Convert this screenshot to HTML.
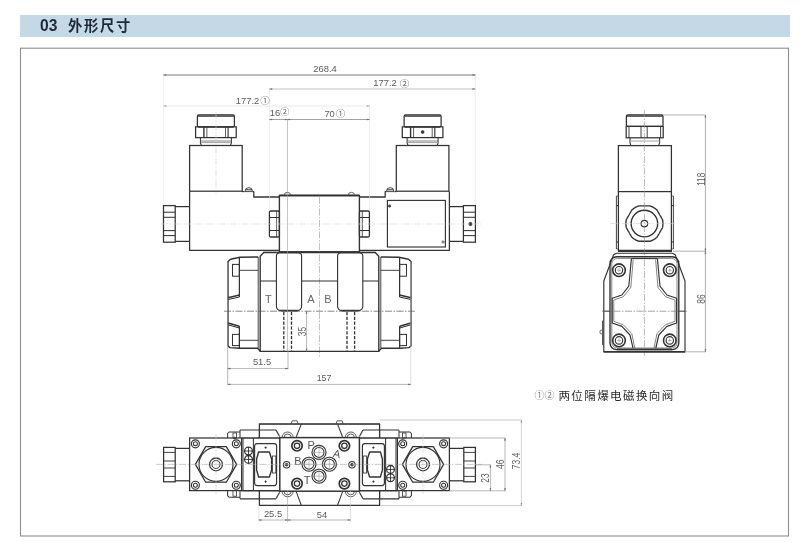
<!DOCTYPE html>
<html lang="zh-CN">
<head>
<meta charset="utf-8">
<title>03 外形尺寸</title>
<style>
html,body{margin:0;padding:0;background:#fff;}
body{width:800px;height:543px;position:relative;overflow:hidden;font-family:"Liberation Sans","Noto Sans CJK SC",sans-serif;}
.bar{position:absolute;left:20px;top:15px;width:770px;height:22px;background:#c4d8e6;}
.bar span{will-change:transform;position:absolute;top:0;line-height:22px;font-size:15px;font-weight:bold;color:#1e2836;white-space:nowrap;}
.frame{position:absolute;left:20px;top:47.5px;width:768px;height:488px;border:1px solid #959595;box-sizing:content-box;}
svg{position:absolute;left:0;top:0;will-change:transform;}
svg text{font-family:"Liberation Sans","Noto Sans CJK SC",sans-serif;}
.cap{will-change:transform;position:absolute;left:534px;top:388px;font-size:11.5px;line-height:16px;color:#2a2a2a;white-space:nowrap;letter-spacing:1.2px;}
.cap i{font-style:normal;color:#7a7a7a;font-size:10px;letter-spacing:0px;position:absolute;left:0.6px;top:0;}
.cap span{position:absolute;left:24.4px;top:0;letter-spacing:1.42px;}
</style>
</head>
<body>
<div class="bar"><span style="left:20.3px;font-size:15.6px">03</span><span style="left:47.6px;font-size:14.3px;letter-spacing:1.7px">外形尺寸</span></div>
<svg width="800" height="543" viewBox="0 0 800 543">
<rect x="20.5" y="48.2" width="768" height="487.8" fill="none" stroke="#8e8e8e" stroke-width="1.1"/>
<rect x="197.4" y="115" width="37.0" height="12" rx="1.5" stroke="#333333" stroke-width="1.26" fill="none"/>
<line x1="197.9" y1="116.3" x2="233.9" y2="116.3" stroke="#333333" stroke-width="0.92" />
<rect x="195.6" y="126.8" width="40.6" height="10.8" rx="0" stroke="#333333" stroke-width="1.26" fill="none"/>
<line x1="203.9" y1="127" x2="203.9" y2="137.6" stroke="#333333" stroke-width="1.38" />
<line x1="206.9" y1="127" x2="206.9" y2="137.6" stroke="#333333" stroke-width="0.8" />
<line x1="225.5" y1="127" x2="225.5" y2="137.6" stroke="#333333" stroke-width="0.8" />
<line x1="228.1" y1="127" x2="228.1" y2="137.6" stroke="#333333" stroke-width="1.15" />
<path d="M200.4 137.6 L200.4 143 L201.4 145.5" stroke="#333333" stroke-width="1.03" fill="none" stroke-linejoin="round" />
<path d="M231.4 137.6 L231.4 143 L230.4 145.5" stroke="#333333" stroke-width="1.03" fill="none" stroke-linejoin="round" />
<line x1="200.4" y1="141" x2="231.4" y2="141" stroke="#666" stroke-width="0.8" />
<line x1="200.9" y1="142.6" x2="230.9" y2="142.6" stroke="#777" stroke-width="0.7" />
<rect x="189.6" y="145.5" width="52.6" height="45.7" rx="0" stroke="#333333" stroke-width="1.26" fill="none"/>
<line x1="216" y1="112" x2="216" y2="194" stroke="#cfcfcf" stroke-width="0.6" stroke-dasharray="7 1.5 1.5 1.5"/>
<rect x="404.1" y="115" width="37.0" height="12" rx="1.5" stroke="#333333" stroke-width="1.26" fill="none"/>
<line x1="404.6" y1="116.3" x2="440.6" y2="116.3" stroke="#333333" stroke-width="0.92" />
<rect x="402.3" y="126.8" width="40.6" height="10.8" rx="0" stroke="#333333" stroke-width="1.26" fill="none"/>
<line x1="410.6" y1="127" x2="410.6" y2="137.6" stroke="#333333" stroke-width="1.38" />
<line x1="413.6" y1="127" x2="413.6" y2="137.6" stroke="#333333" stroke-width="0.8" />
<line x1="432.20000000000005" y1="127" x2="432.20000000000005" y2="137.6" stroke="#333333" stroke-width="0.8" />
<line x1="434.8" y1="127" x2="434.8" y2="137.6" stroke="#333333" stroke-width="1.15" />
<path d="M407.1 137.6 L407.1 143 L408.1 145.5" stroke="#333333" stroke-width="1.03" fill="none" stroke-linejoin="round" />
<path d="M438.1 137.6 L438.1 143 L437.1 145.5" stroke="#333333" stroke-width="1.03" fill="none" stroke-linejoin="round" />
<line x1="407.1" y1="141" x2="438.1" y2="141" stroke="#666" stroke-width="0.8" />
<line x1="407.6" y1="142.6" x2="437.6" y2="142.6" stroke="#777" stroke-width="0.7" />
<rect x="396.3" y="145.5" width="52.6" height="45.7" rx="0" stroke="#333333" stroke-width="1.26" fill="none"/>
<circle cx="422.6" cy="132" r="1.5" stroke="#333333" stroke-width="0.57" fill="#333333"/>
<path d="M189.6 191.2 L189.6 250.3 L279.4 250.3" stroke="#333333" stroke-width="1.26" fill="none" stroke-linejoin="round" />
<path d="M242 191.6 L244.5 191.6" stroke="#333333" stroke-width="1.15" fill="none" stroke-linejoin="round" />
<path d="M252.8 191.6 L253.8 191.6 L253.8 197 L279.4 197" stroke="#333333" stroke-width="1.26" fill="none" stroke-linejoin="round" />
<path d="M245 191.6 Q245 187.6 248.8 187.6 Q252.6 187.6 252.6 191.6 Z" stroke="#333333" stroke-width="0.9" fill="none"/>
<line x1="245.5" y1="189.8" x2="252" y2="189.8" stroke="#333333" stroke-width="1.03" />
<path d="M359.4 250.3 L449.4 250.3 L449.4 191.2" stroke="#333333" stroke-width="1.26" fill="none" stroke-linejoin="round" />
<path d="M359.4 197 L385.2 197 L385.2 191.6 L386.2 191.6" stroke="#333333" stroke-width="1.26" fill="none" stroke-linejoin="round" />
<path d="M394.5 191.6 L396.3 191.6" stroke="#333333" stroke-width="1.15" fill="none" stroke-linejoin="round" />
<path d="M386.4 191.6 Q386.4 187.6 390.2 187.6 Q394 187.6 394 191.6 Z" stroke="#333333" stroke-width="0.9" fill="none"/>
<line x1="387" y1="189.8" x2="393.5" y2="189.8" stroke="#333333" stroke-width="1.03" />
<rect x="387.4" y="200.4" width="58.0" height="46.6" rx="0" stroke="#333333" stroke-width="1.15" fill="none"/>
<circle cx="389.6" cy="206" r="1.2" stroke="#333333" stroke-width="0.69" fill="#555"/>
<circle cx="443" cy="242" r="1.1" stroke="#333333" stroke-width="0.8" fill="none"/>
<rect x="163.5" y="205.6" width="11.7" height="36.6" rx="0" stroke="#333333" stroke-width="1.26" fill="none"/>
<line x1="163.5" y1="212.2" x2="175.2" y2="212.2" stroke="#333333" stroke-width="1.03" />
<line x1="163.5" y1="217.3" x2="175.2" y2="217.3" stroke="#333333" stroke-width="1.03" />
<line x1="163.5" y1="230.6" x2="175.2" y2="230.6" stroke="#333333" stroke-width="1.03" />
<line x1="163.5" y1="235.6" x2="175.2" y2="235.6" stroke="#333333" stroke-width="1.03" />
<line x1="175.2" y1="206.6" x2="189.6" y2="206.6" stroke="#333333" stroke-width="1.26" />
<line x1="175.2" y1="241.4" x2="189.6" y2="241.4" stroke="#333333" stroke-width="1.26" />
<rect x="463.4" y="205.6" width="12.0" height="36.6" rx="0" stroke="#333333" stroke-width="1.26" fill="none"/>
<line x1="475.4" y1="212.2" x2="463.4" y2="212.2" stroke="#333333" stroke-width="1.03" />
<line x1="475.4" y1="217.3" x2="463.4" y2="217.3" stroke="#333333" stroke-width="1.03" />
<line x1="475.4" y1="230.6" x2="463.4" y2="230.6" stroke="#333333" stroke-width="1.03" />
<line x1="475.4" y1="235.6" x2="463.4" y2="235.6" stroke="#333333" stroke-width="1.03" />
<line x1="449.4" y1="206.6" x2="463.4" y2="206.6" stroke="#333333" stroke-width="1.26" />
<line x1="449.4" y1="241.4" x2="463.4" y2="241.4" stroke="#333333" stroke-width="1.26" />
<circle cx="470.4" cy="224" r="1.7" stroke="#333333" stroke-width="0.57" fill="#333333"/>
<rect x="279.4" y="195.6" width="80.0" height="56.2" rx="0" stroke="#333333" stroke-width="1.38" fill="none"/>
<line x1="279.4" y1="195.4" x2="359.4" y2="195.4" stroke="#333333" stroke-width="1.84" />
<path d="M284.2 195 Q284.2 192.4 287.4 192.4 Q290.59999999999997 192.4 290.59999999999997 195" stroke="#555" stroke-width="0.9" fill="none"/>
<path d="M348.2 195 Q348.2 192.4 351.4 192.4 Q354.59999999999997 192.4 354.59999999999997 195" stroke="#555" stroke-width="0.9" fill="none"/>
<rect x="269.4" y="211" width="10.0" height="26" rx="1.2" stroke="#333333" stroke-width="1.26" fill="none"/>
<line x1="269.4" y1="217.5" x2="279.4" y2="217.5" stroke="#333333" stroke-width="1.03" />
<line x1="269.4" y1="230.5" x2="279.4" y2="230.5" stroke="#333333" stroke-width="1.03" />
<rect x="359.4" y="211" width="10.0" height="26" rx="1.2" stroke="#333333" stroke-width="1.26" fill="none"/>
<line x1="359.4" y1="217.5" x2="369.4" y2="217.5" stroke="#333333" stroke-width="1.03" />
<line x1="359.4" y1="230.5" x2="369.4" y2="230.5" stroke="#333333" stroke-width="1.03" />
<line x1="276.6" y1="211" x2="276.6" y2="237" stroke="#333333" stroke-width="0.8" />
<line x1="362.3" y1="211" x2="362.3" y2="237" stroke="#333333" stroke-width="0.8" />
<line x1="161" y1="224" x2="481" y2="224" stroke="#d4d4d4" stroke-width="0.6" stroke-dasharray="7 1.5 1.5 1.5"/>
<line x1="319.5" y1="197" x2="319.5" y2="358" stroke="#999" stroke-width="0.6" stroke-dasharray="7 1.5 1.5 1.5"/>
<path d="M260.2 351.4 L260.2 256.2 L263.8 252.5 L375.2 252.5 L378.8 256.2 L378.8 351.4 L260.2 351.4 Z" stroke="#333333" stroke-width="1.38" fill="none" stroke-linejoin="round" />
<line x1="258.2" y1="257" x2="258.2" y2="348" stroke="#333333" stroke-width="0.92" />
<line x1="380.8" y1="257" x2="380.8" y2="348" stroke="#333333" stroke-width="0.92" />
<line x1="263" y1="252.3" x2="376" y2="252.3" stroke="#333333" stroke-width="0.69" />
<line x1="260" y1="351.5" x2="379" y2="351.5" stroke="#333333" stroke-width="0.69" />
<path d="M276.4 256 Q276.4 253 279.4 253 L298.59999999999997 253 Q301.59999999999997 253 301.59999999999997 256 L301.59999999999997 306 Q301.59999999999997 310.6 297.0 310.6 L281.0 310.6 Q276.4 310.6 276.4 306 Z" stroke="#333333" stroke-width="1.1" fill="#fff"/>
<line x1="280.4" y1="310.6" x2="297.59999999999997" y2="310.6" stroke="#333333" stroke-width="1.72" />
<path d="M337.6 256 Q337.6 253 340.6 253 L359.8 253 Q362.8 253 362.8 256 L362.8 306 Q362.8 310.6 358.20000000000005 310.6 L342.20000000000005 310.6 Q337.6 310.6 337.6 306 Z" stroke="#333333" stroke-width="1.1" fill="#fff"/>
<line x1="341.6" y1="310.6" x2="358.8" y2="310.6" stroke="#333333" stroke-width="1.72" />
<line x1="260.2" y1="281" x2="276.4" y2="281" stroke="#333333" stroke-width="1.03" />
<line x1="301.6" y1="281" x2="337.6" y2="281" stroke="#333333" stroke-width="1.03" />
<line x1="362.8" y1="281" x2="378.8" y2="281" stroke="#333333" stroke-width="1.03" />
<line x1="224" y1="311.2" x2="415" y2="311.2" stroke="#555" stroke-width="0.7" stroke-dasharray="7 1.5 1.5 1.5"/>
<line x1="283.8" y1="312" x2="283.8" y2="351" stroke="#333333" stroke-width="1.32" stroke-dasharray="3.2 1.6"/>
<line x1="291.5" y1="312" x2="291.5" y2="351" stroke="#333333" stroke-width="1.32" stroke-dasharray="3.2 1.6"/>
<line x1="347" y1="312" x2="347" y2="351" stroke="#333333" stroke-width="1.32" stroke-dasharray="3.2 1.6"/>
<line x1="354.6" y1="312" x2="354.6" y2="351" stroke="#333333" stroke-width="1.32" stroke-dasharray="3.2 1.6"/>
<line x1="306.6" y1="311.2" x2="306.6" y2="351.4" stroke="#999" stroke-width="0.7" />
<path d="M306.6 311.2 L307.15 313.8 L306.05 313.8 Z" fill="#666" stroke="#666" stroke-width="0.3"/>
<path d="M306.6 351.4 L306.05 348.8 L307.15 348.8 Z" fill="#666" stroke="#666" stroke-width="0.3"/>
<path d="M258.2 257 L240 257.2 L230.5 259.2 L228 261.5 L228 297.8 L239.4 295" stroke="#333333" stroke-width="1.44" fill="none" stroke-linejoin="round" />
<path d="M228 299.6 L239.4 296.9" stroke="#333333" stroke-width="1.03" fill="none" stroke-linejoin="round" />
<line x1="239.4" y1="257.2" x2="239.4" y2="297" stroke="#333333" stroke-width="1.26" />
<rect x="232.5" y="264.4" width="6.9" height="11.8" rx="0" stroke="#333333" stroke-width="1.03" fill="none"/>
<line x1="239.4" y1="270.3" x2="258.2" y2="270.3" stroke="#333333" stroke-width="0.92" />
<path d="M239.4 326.2 L228 323 L228 346 L230 347.6 L239.4 348.2 L257.6 348.2 L260.4 351.4" stroke="#333333" stroke-width="1.44" fill="none" stroke-linejoin="round" />
<path d="M228 324.8 L239.4 328" stroke="#333333" stroke-width="1.03" fill="none" stroke-linejoin="round" />
<line x1="239.4" y1="326.2" x2="239.4" y2="348.2" stroke="#333333" stroke-width="1.26" />
<rect x="232.5" y="334.4" width="6.9" height="11.2" rx="0" stroke="#333333" stroke-width="1.03" fill="none"/>
<line x1="239.4" y1="340.3" x2="258.2" y2="340.3" stroke="#333333" stroke-width="0.92" />
<line x1="228" y1="297.8" x2="228" y2="323" stroke="#333333" stroke-width="1.38" />
<path d="M380.8 257 L399.0 257.2 L408.5 259.2 L411.0 261.5 L411.0 297.8 L399.6 295" stroke="#333333" stroke-width="1.44" fill="none" stroke-linejoin="round" />
<path d="M411.0 299.6 L399.6 296.9" stroke="#333333" stroke-width="1.03" fill="none" stroke-linejoin="round" />
<line x1="399.6" y1="257.2" x2="399.6" y2="297" stroke="#333333" stroke-width="1.26" />
<rect x="399.6" y="264.4" width="6.9" height="11.8" rx="0" stroke="#333333" stroke-width="1.03" fill="none"/>
<line x1="399.6" y1="270.3" x2="380.8" y2="270.3" stroke="#333333" stroke-width="0.92" />
<path d="M399.6 326.2 L411.0 323 L411.0 346 L409.0 347.6 L399.6 348.2 L381.4 348.2 L378.6 351.4" stroke="#333333" stroke-width="1.44" fill="none" stroke-linejoin="round" />
<path d="M411.0 324.8 L399.6 328" stroke="#333333" stroke-width="1.03" fill="none" stroke-linejoin="round" />
<line x1="399.6" y1="326.2" x2="399.6" y2="348.2" stroke="#333333" stroke-width="1.26" />
<rect x="399.6" y="334.4" width="6.9" height="11.2" rx="0" stroke="#333333" stroke-width="1.03" fill="none"/>
<line x1="399.6" y1="340.3" x2="380.8" y2="340.3" stroke="#333333" stroke-width="0.92" />
<line x1="411.0" y1="297.8" x2="411.0" y2="323" stroke="#333333" stroke-width="1.38" />
<text transform="translate(268.3 302.5) scale(1 1)" font-size="11" fill="#666" text-anchor="middle" font-weight="normal" >T</text>
<text transform="translate(311 302.5) scale(1 1)" font-size="11" fill="#666" text-anchor="middle" font-weight="normal" >A</text>
<text transform="translate(328 302.5) scale(1 1)" font-size="11" fill="#666" text-anchor="middle" font-weight="normal" >B</text>
<text transform="translate(306.3 331.4) rotate(-90) scale(0.81 1)" font-size="10.5" fill="#606060" text-anchor="middle" font-weight="normal" >35</text>
<line x1="163.6" y1="74" x2="163.6" y2="205" stroke="#e6e6e6" stroke-width="0.6" />
<line x1="475.2" y1="74" x2="475.2" y2="205" stroke="#dcdcdc" stroke-width="0.6" />
<line x1="163.6" y1="75" x2="475.2" y2="75" stroke="#707070" stroke-width="0.9" />
<path d="M163.6 75 L166.2 74.45 L166.2 75.55 Z" fill="#666" stroke="#666" stroke-width="0.3"/>
<path d="M475.2 75 L472.6 75.55 L472.6 74.45 Z" fill="#666" stroke="#666" stroke-width="0.3"/>
<text transform="translate(325 71.6) scale(1 1)" font-size="9.4" fill="#5a5a5a" text-anchor="middle" font-weight="normal" >268.4</text>
<line x1="269.5" y1="88" x2="269.5" y2="211" stroke="#e6e6e6" stroke-width="0.6" />
<line x1="269.5" y1="89" x2="475.2" y2="89" stroke="#a6a6a6" stroke-width="0.7" />
<path d="M269.5 89 L272.1 88.45 L272.1 89.55 Z" fill="#666" stroke="#666" stroke-width="0.3"/>
<path d="M475.2 89 L472.6 89.55 L472.6 88.45 Z" fill="#666" stroke="#666" stroke-width="0.3"/>
<text transform="translate(385 86.2) scale(1 1)" font-size="9.4" fill="#5a5a5a" text-anchor="middle" font-weight="normal" >177.2</text>
<text transform="translate(404.6 86.8) scale(1 1)" font-size="9.6" fill="#6a6a6a" text-anchor="middle" font-weight="normal" >②</text>
<line x1="369.5" y1="105" x2="369.5" y2="211" stroke="#e0e0e0" stroke-width="0.6" />
<line x1="163.6" y1="106" x2="369.5" y2="106" stroke="#dcdcdc" stroke-width="0.6" />
<path d="M163.6 106 L166.2 105.45 L166.2 106.55 Z" fill="#999" stroke="#999" stroke-width="0.3"/>
<path d="M369.5 106 L366.9 106.55 L366.9 105.45 Z" fill="#999" stroke="#999" stroke-width="0.3"/>
<text transform="translate(247.6 103.6) scale(1 1)" font-size="9.4" fill="#5a5a5a" text-anchor="middle" font-weight="normal" >177.2</text>
<text transform="translate(265 103.8) scale(1 1)" font-size="9.6" fill="#6a6a6a" text-anchor="middle" font-weight="normal" >①</text>
<line x1="269.5" y1="119.5" x2="287.5" y2="119.5" stroke="#8c8c8c" stroke-width="0.8" />
<path d="M269.5 119.5 L272.1 118.95 L272.1 120.05 Z" fill="#666" stroke="#666" stroke-width="0.3"/>
<path d="M287.5 119.5 L284.9 120.05 L284.9 118.95 Z" fill="#666" stroke="#666" stroke-width="0.3"/>
<line x1="287.5" y1="119.5" x2="369.5" y2="119.5" stroke="#8c8c8c" stroke-width="0.8" />
<path d="M287.5 119.5 L290.1 118.95 L290.1 120.05 Z" fill="#666" stroke="#666" stroke-width="0.3"/>
<path d="M369.5 119.5 L366.9 120.05 L366.9 118.95 Z" fill="#666" stroke="#666" stroke-width="0.3"/>
<line x1="287.5" y1="119.6" x2="287.5" y2="351" stroke="#a0a0a0" stroke-width="0.6" />
<text transform="translate(275 116.4) scale(1 1)" font-size="9.4" fill="#5a5a5a" text-anchor="middle" font-weight="normal" >16</text>
<text transform="translate(284.8 115.3) scale(1 1)" font-size="9" fill="#6a6a6a" text-anchor="middle" font-weight="normal" >②</text>
<text transform="translate(329.6 116.6) scale(1 1)" font-size="9.4" fill="#5a5a5a" text-anchor="middle" font-weight="normal" >70</text>
<text transform="translate(340.6 116.8) scale(1 1)" font-size="9.6" fill="#6a6a6a" text-anchor="middle" font-weight="normal" >①</text>
<line x1="227.7" y1="262" x2="227.7" y2="385" stroke="#999" stroke-width="0.7" />
<line x1="410.8" y1="262" x2="410.8" y2="385" stroke="#c8c8c8" stroke-width="0.6" />
<line x1="288" y1="351" x2="288" y2="369" stroke="#999" stroke-width="0.7" />
<line x1="227.7" y1="368.6" x2="288" y2="368.6" stroke="#999" stroke-width="0.7" />
<path d="M227.7 368.6 L230.3 368.05 L230.3 369.15 Z" fill="#666" stroke="#666" stroke-width="0.3"/>
<path d="M288 368.6 L285.4 369.15 L285.4 368.05 Z" fill="#666" stroke="#666" stroke-width="0.3"/>
<text transform="translate(262 365.2) scale(1 1)" font-size="9.4" fill="#5a5a5a" text-anchor="middle" font-weight="normal" >51.5</text>
<line x1="227.7" y1="384.4" x2="410.8" y2="384.4" stroke="#999" stroke-width="0.7" />
<path d="M227.7 384.4 L230.3 383.85 L230.3 384.95 Z" fill="#666" stroke="#666" stroke-width="0.3"/>
<path d="M410.8 384.4 L408.2 384.95 L408.2 383.85 Z" fill="#666" stroke="#666" stroke-width="0.3"/>
<text transform="translate(324 381.4) scale(0.93 1)" font-size="9.4" fill="#5a5a5a" text-anchor="middle" font-weight="normal" >157</text>
<rect x="626.4" y="115" width="36.6" height="11.4" rx="1.5" stroke="#333333" stroke-width="1.26" fill="none"/>
<line x1="627" y1="116.3" x2="662.5" y2="116.3" stroke="#333333" stroke-width="0.92" />
<rect x="626.2" y="126.4" width="37.0" height="11.4" rx="0" stroke="#333333" stroke-width="1.26" fill="none"/>
<line x1="629" y1="126.4" x2="629" y2="137.8" stroke="#333333" stroke-width="0.92" />
<line x1="641" y1="126.4" x2="641" y2="137.8" stroke="#333333" stroke-width="0.92" />
<line x1="647.2" y1="126.4" x2="647.2" y2="137.8" stroke="#333333" stroke-width="0.92" />
<line x1="660.6" y1="126.4" x2="660.6" y2="137.8" stroke="#333333" stroke-width="0.92" />
<path d="M630 137.8 L630 143 L631 145.6" stroke="#333333" stroke-width="1.03" fill="none" stroke-linejoin="round" />
<path d="M659.6 137.8 L659.6 143 L658.6 145.6" stroke="#333333" stroke-width="1.03" fill="none" stroke-linejoin="round" />
<line x1="630" y1="141" x2="659.6" y2="141" stroke="#8a8a8a" stroke-width="0.8" />
<rect x="618.4" y="145.6" width="53.0" height="46.0" rx="0" stroke="#333333" stroke-width="1.26" fill="none"/>
<path d="M618.4 191.6 L618.4 250.6 L671.4 250.6 L671.4 191.6" stroke="#333333" stroke-width="1.26" fill="none" stroke-linejoin="round" />
<line x1="618" y1="250.8" x2="672" y2="250.8" stroke="#333333" stroke-width="2.3" />
<line x1="616.4" y1="196" x2="616.4" y2="249" stroke="#333333" stroke-width="0.92" />
<line x1="616.4" y1="196" x2="618.4" y2="196" stroke="#333333" stroke-width="0.69" />
<line x1="616.4" y1="249" x2="618.4" y2="249" stroke="#333333" stroke-width="0.69" />
<line x1="616.4" y1="205.6" x2="618.4" y2="205.6" stroke="#333333" stroke-width="1.03" />
<line x1="616.4" y1="242" x2="618.4" y2="242" stroke="#333333" stroke-width="1.03" />
<line x1="673.4" y1="196" x2="673.4" y2="249" stroke="#333333" stroke-width="0.92" />
<line x1="673.4" y1="196" x2="671.4" y2="196" stroke="#333333" stroke-width="0.69" />
<line x1="673.4" y1="249" x2="671.4" y2="249" stroke="#333333" stroke-width="0.69" />
<line x1="673.4" y1="205.6" x2="671.4" y2="205.6" stroke="#333333" stroke-width="1.03" />
<line x1="673.4" y1="242" x2="671.4" y2="242" stroke="#333333" stroke-width="1.03" />
<path d="M662.9 223.6 L662.9 223.92 L662.89 224.25 L662.87 224.57 L662.85 224.89 L662.83 225.21 L662.8 225.53 L662.76 225.85 L662.72 226.17 L662.67 226.49 L662.62 226.81 L662.56 227.13 L662.5 227.45 L662.43 227.76 L662.27 228.05 L662.1 228.34 L661.94 228.63 L661.77 228.91 L661.61 229.19 L661.45 229.47 L661.29 229.75 L661.13 230.02 L660.97 230.3 L660.82 230.57 L660.66 230.84 L660.5 231.11 L660.35 231.38 L660.19 231.65 L660.04 231.91 L659.88 232.18 L659.73 232.45 L659.57 232.72 L659.42 232.99 L659.26 233.25 L659.11 233.52 L658.95 233.79 L658.8 234.06 L658.64 234.33 L658.48 234.6 L658.33 234.88 L658.17 235.15 L658.01 235.43 L657.85 235.71 L657.69 235.99 L657.52 236.27 L657.36 236.56 L657.19 236.85 L657.02 237.13 L656.78 237.35 L656.54 237.56 L656.29 237.77 L656.04 237.98 L655.79 238.18 L655.53 238.37 L655.27 238.57 L655.01 238.75 L654.75 238.94 L654.48 239.12 L654.2 239.29 L653.93 239.46 L653.65 239.62 L653.37 239.78 L653.09 239.93 L652.8 240.08 L652.51 240.23 L652.22 240.37 L651.92 240.5 L651.63 240.63 L651.33 240.75 L651.03 240.87 L650.73 240.98 L650.42 241.09 L650.12 241.19 L649.81 241.29 L649.48 241.3 L649.14 241.3 L648.81 241.3 L648.49 241.3 L648.16 241.3 L647.84 241.3 L647.52 241.3 L647.2 241.3 L646.89 241.3 L646.57 241.3 L646.26 241.3 L645.95 241.3 L645.64 241.3 L645.33 241.3 L645.02 241.3 L644.71 241.3 L644.4 241.3 L644.09 241.3 L643.78 241.3 L643.47 241.3 L643.16 241.3 L642.85 241.3 L642.54 241.3 L642.23 241.3 L641.91 241.3 L641.6 241.3 L641.28 241.3 L640.96 241.3 L640.64 241.3 L640.31 241.3 L639.99 241.3 L639.66 241.3 L639.32 241.3 L638.99 241.29 L638.68 241.19 L638.38 241.09 L638.07 240.98 L637.77 240.87 L637.47 240.75 L637.17 240.63 L636.88 240.5 L636.58 240.37 L636.29 240.23 L636.0 240.08 L635.71 239.93 L635.43 239.78 L635.15 239.62 L634.87 239.46 L634.6 239.29 L634.32 239.12 L634.05 238.94 L633.79 238.75 L633.53 238.57 L633.27 238.37 L633.01 238.18 L632.76 237.98 L632.51 237.77 L632.26 237.56 L632.02 237.35 L631.78 237.13 L631.61 236.85 L631.44 236.56 L631.28 236.27 L631.11 235.99 L630.95 235.71 L630.79 235.43 L630.63 235.15 L630.47 234.88 L630.32 234.6 L630.16 234.33 L630.0 234.06 L629.85 233.79 L629.69 233.52 L629.54 233.25 L629.38 232.99 L629.23 232.72 L629.07 232.45 L628.92 232.18 L628.76 231.91 L628.61 231.65 L628.45 231.38 L628.3 231.11 L628.14 230.84 L627.98 230.57 L627.83 230.3 L627.67 230.02 L627.51 229.75 L627.35 229.47 L627.19 229.19 L627.03 228.91 L626.86 228.63 L626.7 228.34 L626.53 228.05 L626.37 227.76 L626.3 227.45 L626.24 227.13 L626.18 226.81 L626.13 226.49 L626.08 226.17 L626.04 225.85 L626.0 225.53 L625.97 225.21 L625.95 224.89 L625.93 224.57 L625.91 224.25 L625.9 223.92 L625.9 223.6 L625.9 223.28 L625.91 222.95 L625.93 222.63 L625.95 222.31 L625.97 221.99 L626.0 221.67 L626.04 221.35 L626.08 221.03 L626.13 220.71 L626.18 220.39 L626.24 220.07 L626.3 219.75 L626.37 219.44 L626.53 219.15 L626.7 218.86 L626.86 218.57 L627.03 218.29 L627.19 218.01 L627.35 217.73 L627.51 217.45 L627.67 217.18 L627.83 216.9 L627.98 216.63 L628.14 216.36 L628.3 216.09 L628.45 215.82 L628.61 215.55 L628.76 215.29 L628.92 215.02 L629.07 214.75 L629.23 214.48 L629.38 214.21 L629.54 213.95 L629.69 213.68 L629.85 213.41 L630.0 213.14 L630.16 212.87 L630.32 212.6 L630.47 212.32 L630.63 212.05 L630.79 211.77 L630.95 211.49 L631.11 211.21 L631.28 210.93 L631.44 210.64 L631.61 210.35 L631.78 210.07 L632.02 209.85 L632.26 209.64 L632.51 209.43 L632.76 209.22 L633.01 209.02 L633.27 208.83 L633.53 208.63 L633.79 208.45 L634.05 208.26 L634.32 208.08 L634.6 207.91 L634.87 207.74 L635.15 207.58 L635.43 207.42 L635.71 207.27 L636.0 207.12 L636.29 206.97 L636.58 206.83 L636.88 206.7 L637.17 206.57 L637.47 206.45 L637.77 206.33 L638.07 206.22 L638.38 206.11 L638.68 206.01 L638.99 205.91 L639.32 205.9 L639.66 205.9 L639.99 205.9 L640.31 205.9 L640.64 205.9 L640.96 205.9 L641.28 205.9 L641.6 205.9 L641.91 205.9 L642.23 205.9 L642.54 205.9 L642.85 205.9 L643.16 205.9 L643.47 205.9 L643.78 205.9 L644.09 205.9 L644.4 205.9 L644.71 205.9 L645.02 205.9 L645.33 205.9 L645.64 205.9 L645.95 205.9 L646.26 205.9 L646.57 205.9 L646.89 205.9 L647.2 205.9 L647.52 205.9 L647.84 205.9 L648.16 205.9 L648.49 205.9 L648.81 205.9 L649.14 205.9 L649.48 205.9 L649.81 205.91 L650.12 206.01 L650.42 206.11 L650.73 206.22 L651.03 206.33 L651.33 206.45 L651.63 206.57 L651.92 206.7 L652.22 206.83 L652.51 206.97 L652.8 207.12 L653.09 207.27 L653.37 207.42 L653.65 207.58 L653.93 207.74 L654.2 207.91 L654.48 208.08 L654.75 208.26 L655.01 208.45 L655.27 208.63 L655.53 208.83 L655.79 209.02 L656.04 209.22 L656.29 209.43 L656.54 209.64 L656.78 209.85 L657.02 210.07 L657.19 210.35 L657.36 210.64 L657.52 210.93 L657.69 211.21 L657.85 211.49 L658.01 211.77 L658.17 212.05 L658.33 212.32 L658.48 212.6 L658.64 212.87 L658.8 213.14 L658.95 213.41 L659.11 213.68 L659.26 213.95 L659.42 214.21 L659.57 214.48 L659.73 214.75 L659.88 215.02 L660.04 215.29 L660.19 215.55 L660.35 215.82 L660.5 216.09 L660.66 216.36 L660.82 216.63 L660.97 216.9 L661.13 217.18 L661.29 217.45 L661.45 217.73 L661.61 218.01 L661.77 218.29 L661.94 218.57 L662.1 218.86 L662.27 219.15 L662.43 219.44 L662.5 219.75 L662.56 220.07 L662.62 220.39 L662.67 220.71 L662.72 221.03 L662.76 221.35 L662.8 221.67 L662.83 221.99 L662.85 222.31 L662.87 222.63 L662.89 222.95 L662.9 223.28 Z" stroke="#333333" stroke-width="1.38" fill="none" stroke-linejoin="round" />
<circle cx="644.4" cy="223.6" r="13.3" stroke="#333333" stroke-width="1.38" fill="none"/>
<circle cx="644.4" cy="223.6" r="3.3" stroke="#333333" stroke-width="1.15" fill="none"/>
<line x1="610" y1="223.6" x2="676" y2="223.6" stroke="#cfcfcf" stroke-width="0.6" stroke-dasharray="7 1.5 1.5 1.5"/>
<line x1="644.4" y1="110" x2="644.4" y2="356" stroke="#8a8a8a" stroke-width="0.6" stroke-dasharray="7 1.5 1.5 1.5"/>
<path d="M616.5 253.2 L613.6 254.8 L603.8 281 L603.8 351.8 L685.0 351.8 L685.0 281 L675.2 254.8 L672.3 253.2 L616.5 253.2 Z" stroke="#333333" stroke-width="1.15" fill="none" stroke-linejoin="round" />
<line x1="603.8" y1="351.8" x2="685.0" y2="351.8" stroke="#333333" stroke-width="1.38" />
<line x1="603.8" y1="311.2" x2="610" y2="311.2" stroke="#333333" stroke-width="0.92" />
<line x1="685.0" y1="311.2" x2="678.8" y2="311.2" stroke="#333333" stroke-width="0.92" />
<rect x="610" y="256.8" width="68.8" height="92.8" rx="6.5" stroke="#333333" stroke-width="1.38" fill="none"/>
<rect x="611.8" y="258.4" width="65.2" height="89.6" rx="5.5" stroke="#666" stroke-width="0.8" fill="none"/>
<line x1="617" y1="349.4" x2="672" y2="349.4" stroke="#333333" stroke-width="1.84" />
<path d="M631.4 258.6 L628.8 286.2 L621.9 295 L612.2 298.2 L612.2 323 L621.9 326.4 L630 335 L633 348" stroke="#333333" stroke-width="1.15" fill="none" stroke-linejoin="round" />
<path d="M655.8 348 L658.8 335 L666.9 326.4 L676.6 323 L676.6 298.2 L666.9 295 L660.0 286.2 L657.4 258.6" stroke="#333333" stroke-width="1.15" fill="none" stroke-linejoin="round" />
<line x1="631.4" y1="258.6" x2="657.4" y2="258.6" stroke="#333333" stroke-width="1.03" />
<path d="M633.2 259.6 L630.8 287.6 L623.2 296.8 L613.8 300 L613.8 321.4 L623.2 324.6 L631.8 333.6 L634.8 348" stroke="#666" stroke-width="0.8" fill="none" stroke-linejoin="round" />
<path d="M655.6 259.6 L658.0 287.6 L665.6 296.8 L675.0 300 L675.0 321.4 L665.6 324.6 L657.0 333.6 L654.0 348" stroke="#666" stroke-width="0.8" fill="none" stroke-linejoin="round" />
<circle cx="619" cy="270.2" r="6.3" stroke="#333333" stroke-width="1.61" fill="none"/>
<circle cx="619" cy="270.2" r="3.7" stroke="#333333" stroke-width="1.15" fill="none"/>
<line x1="617" y1="270.2" x2="621" y2="270.2" stroke="#8a8a8a" stroke-width="0.6" />
<line x1="619" y1="268.2" x2="619" y2="272.2" stroke="#8a8a8a" stroke-width="0.6" />
<circle cx="619" cy="340.4" r="6.3" stroke="#333333" stroke-width="1.61" fill="none"/>
<circle cx="619" cy="340.4" r="3.7" stroke="#333333" stroke-width="1.15" fill="none"/>
<line x1="617" y1="340.4" x2="621" y2="340.4" stroke="#8a8a8a" stroke-width="0.6" />
<line x1="619" y1="338.4" x2="619" y2="342.4" stroke="#8a8a8a" stroke-width="0.6" />
<circle cx="669.8" cy="270.2" r="6.3" stroke="#333333" stroke-width="1.61" fill="none"/>
<circle cx="669.8" cy="270.2" r="3.7" stroke="#333333" stroke-width="1.15" fill="none"/>
<line x1="667.8" y1="270.2" x2="671.8" y2="270.2" stroke="#8a8a8a" stroke-width="0.6" />
<line x1="669.8" y1="268.2" x2="669.8" y2="272.2" stroke="#8a8a8a" stroke-width="0.6" />
<circle cx="669.8" cy="340.4" r="6.3" stroke="#333333" stroke-width="1.61" fill="none"/>
<circle cx="669.8" cy="340.4" r="3.7" stroke="#333333" stroke-width="1.15" fill="none"/>
<line x1="667.8" y1="340.4" x2="671.8" y2="340.4" stroke="#8a8a8a" stroke-width="0.6" />
<line x1="669.8" y1="338.4" x2="669.8" y2="342.4" stroke="#8a8a8a" stroke-width="0.6" />
<line x1="602" y1="311.2" x2="687" y2="311.2" stroke="#666" stroke-width="0.6" stroke-dasharray="7 1.5 1.5 1.5"/>
<line x1="602.6" y1="320.6" x2="602.6" y2="345" stroke="#333333" stroke-width="0.92" />
<ellipse cx="601.2" cy="332" rx="1.3" ry="2" stroke="#333333" stroke-width="0.7" fill="#fff"/>
<line x1="663" y1="115" x2="705.6" y2="115" stroke="#a0a0a0" stroke-width="0.8" />
<line x1="673" y1="251.2" x2="705.6" y2="251.2" stroke="#a0a0a0" stroke-width="0.8" />
<line x1="685" y1="351.8" x2="705.6" y2="351.8" stroke="#a0a0a0" stroke-width="0.8" />
<line x1="705.4" y1="115" x2="705.4" y2="251.2" stroke="#9a9a9a" stroke-width="0.8" />
<path d="M705.4 115 L705.95 117.6 L704.85 117.6 Z" fill="#666" stroke="#666" stroke-width="0.3"/>
<path d="M705.4 251.2 L704.85 248.6 L705.95 248.6 Z" fill="#666" stroke="#666" stroke-width="0.3"/>
<line x1="705.4" y1="251.2" x2="705.4" y2="351.8" stroke="#9a9a9a" stroke-width="0.8" />
<path d="M705.4 251.2 L705.95 253.8 L704.85 253.8 Z" fill="#666" stroke="#666" stroke-width="0.3"/>
<path d="M705.4 351.8 L704.85 349.2 L705.95 349.2 Z" fill="#666" stroke="#666" stroke-width="0.3"/>
<text transform="translate(704.8 179.3) rotate(-90) scale(0.78 1)" font-size="10.5" fill="#606060" text-anchor="middle" font-weight="normal" >118</text>
<text transform="translate(704.8 299) rotate(-90) scale(0.81 1)" font-size="10.5" fill="#606060" text-anchor="middle" font-weight="normal" >86</text>
<rect x="163.6" y="447.4" width="11.6" height="34.4" rx="0" stroke="#333333" stroke-width="1.26" fill="none"/>
<line x1="163.6" y1="452.4" x2="175.2" y2="452.4" stroke="#333333" stroke-width="0.92" />
<line x1="163.6" y1="461" x2="175.2" y2="461" stroke="#333333" stroke-width="0.92" />
<line x1="163.6" y1="468" x2="175.2" y2="468" stroke="#333333" stroke-width="0.92" />
<line x1="163.6" y1="476.4" x2="175.2" y2="476.4" stroke="#333333" stroke-width="0.92" />
<line x1="175.2" y1="448.4" x2="189.6" y2="448.4" stroke="#333333" stroke-width="1.26" />
<line x1="175.2" y1="480.8" x2="189.6" y2="480.8" stroke="#333333" stroke-width="1.26" />
<rect x="189.6" y="438" width="52.0" height="52.6" rx="0" stroke="#333333" stroke-width="1.26" fill="none"/>
<circle cx="195.4" cy="443.8" r="4" stroke="#333333" stroke-width="1.15" fill="none"/>
<circle cx="195.4" cy="443.8" r="2" stroke="#333333" stroke-width="1.03" fill="none"/>
<circle cx="195.4" cy="485.2" r="4" stroke="#333333" stroke-width="1.15" fill="none"/>
<circle cx="195.4" cy="485.2" r="2" stroke="#333333" stroke-width="1.03" fill="none"/>
<circle cx="236.3" cy="443.8" r="4" stroke="#333333" stroke-width="1.15" fill="none"/>
<circle cx="236.3" cy="443.8" r="2" stroke="#333333" stroke-width="1.03" fill="none"/>
<circle cx="236.3" cy="485.2" r="4" stroke="#333333" stroke-width="1.15" fill="none"/>
<circle cx="236.3" cy="485.2" r="2" stroke="#333333" stroke-width="1.03" fill="none"/>
<path d="M236.6 464.4 L226.3 482.24 L205.7 482.24 L195.4 464.4 L205.7 446.56 L226.3 446.56 Z" stroke="#333333" stroke-width="1.26" fill="none" stroke-linejoin="round" />
<circle cx="216" cy="464.4" r="17" stroke="#333333" stroke-width="1.15" fill="none"/>
<circle cx="216" cy="464.4" r="6.4" stroke="#333333" stroke-width="1.26" fill="none"/>
<circle cx="216" cy="464.4" r="4" stroke="#333333" stroke-width="1.03" fill="none"/>
<line x1="216" y1="434" x2="216" y2="494" stroke="#cfcfcf" stroke-width="0.6" stroke-dasharray="7 1.5 1.5 1.5"/>
<path d="M227.6 438 L227.6 433.5 L229 432 L240 432" stroke="#333333" stroke-width="1.03" fill="none" stroke-linejoin="round" />
<rect x="233" y="433" width="3.6" height="5" rx="0" stroke="#333333" stroke-width="0.8" fill="none"/>
<path d="M227.6 490.6 L227.6 495.7 L229 497.2 L240 497.2" stroke="#333333" stroke-width="1.03" fill="none" stroke-linejoin="round" />
<rect x="233" y="490.6" width="3.6" height="5.6" rx="0" stroke="#333333" stroke-width="0.8" fill="none"/>
<line x1="240" y1="430" x2="276" y2="430" stroke="#333333" stroke-width="1.15" />
<line x1="276" y1="430" x2="279.6" y2="436.5" stroke="#333333" stroke-width="1.15" />
<line x1="240" y1="498.8" x2="276" y2="498.8" stroke="#333333" stroke-width="1.15" />
<line x1="276" y1="498.8" x2="279.6" y2="492.3" stroke="#333333" stroke-width="1.15" />
<line x1="240" y1="430" x2="240" y2="438" stroke="#333333" stroke-width="1.03" />
<line x1="240" y1="490.6" x2="240" y2="498.8" stroke="#333333" stroke-width="1.03" />
<line x1="241.6" y1="438" x2="279.6" y2="438" stroke="#333333" stroke-width="1.49" />
<line x1="241.6" y1="490.8" x2="279.6" y2="490.8" stroke="#333333" stroke-width="1.49" />
<line x1="243" y1="438" x2="243" y2="490.6" stroke="#333333" stroke-width="1.03" />
<line x1="253.4" y1="438" x2="253.4" y2="490.6" stroke="#333333" stroke-width="1.03" />
<line x1="259.4" y1="430" x2="259.4" y2="438" stroke="#333333" stroke-width="1.03" />
<line x1="259.4" y1="490.6" x2="259.4" y2="498.8" stroke="#333333" stroke-width="1.03" />
<rect x="254.6" y="443.6" width="22.0" height="42.0" rx="2.5" stroke="#333333" stroke-width="1.15" fill="none"/>
<path d="M258.6 452 L269.4 452 L271.6 459 L271.6 470 L269.4 477 L258.6 477 L256.6 470 L256.6 459 Z" stroke="#333333" stroke-width="1.38" fill="none" stroke-linejoin="round" />
<rect x="272.4" y="456" width="3.4" height="17" rx="0" stroke="#333333" stroke-width="0.8" fill="none"/>
<circle cx="265.6" cy="447.6" r="0.8" stroke="#333333" stroke-width="0.57" fill="#333333"/>
<circle cx="265.6" cy="481.6" r="0.8" stroke="#333333" stroke-width="0.57" fill="#333333"/>
<circle cx="248.5" cy="451" r="3.9" stroke="#333333" stroke-width="1.26" fill="none"/>
<line x1="244.6" y1="451" x2="252.4" y2="451" stroke="#333333" stroke-width="0.92" />
<line x1="248.5" y1="447.1" x2="248.5" y2="454.9" stroke="#333333" stroke-width="0.92" />
<circle cx="248.5" cy="459.4" r="3.9" stroke="#333333" stroke-width="1.26" fill="none"/>
<line x1="244.6" y1="459.4" x2="252.4" y2="459.4" stroke="#333333" stroke-width="0.92" />
<line x1="248.5" y1="455.5" x2="248.5" y2="463.29999999999995" stroke="#333333" stroke-width="0.92" />
<circle cx="234.6" cy="438" r="0.8" stroke="#333333" stroke-width="0.57" fill="#333333"/>
<rect x="463.8" y="447.4" width="11.6" height="34.4" rx="0" stroke="#333333" stroke-width="1.26" fill="none"/>
<line x1="475.4" y1="452.4" x2="463.8" y2="452.4" stroke="#333333" stroke-width="0.92" />
<line x1="475.4" y1="461" x2="463.8" y2="461" stroke="#333333" stroke-width="0.92" />
<line x1="475.4" y1="468" x2="463.8" y2="468" stroke="#333333" stroke-width="0.92" />
<line x1="475.4" y1="476.4" x2="463.8" y2="476.4" stroke="#333333" stroke-width="0.92" />
<line x1="463.8" y1="448.4" x2="449.4" y2="448.4" stroke="#333333" stroke-width="1.26" />
<line x1="463.8" y1="480.8" x2="449.4" y2="480.8" stroke="#333333" stroke-width="1.26" />
<rect x="397.4" y="438" width="52.0" height="52.6" rx="0" stroke="#333333" stroke-width="1.26" fill="none"/>
<circle cx="443.6" cy="443.8" r="4" stroke="#333333" stroke-width="1.15" fill="none"/>
<circle cx="443.6" cy="443.8" r="2" stroke="#333333" stroke-width="1.03" fill="none"/>
<circle cx="443.6" cy="485.2" r="4" stroke="#333333" stroke-width="1.15" fill="none"/>
<circle cx="443.6" cy="485.2" r="2" stroke="#333333" stroke-width="1.03" fill="none"/>
<circle cx="402.7" cy="443.8" r="4" stroke="#333333" stroke-width="1.15" fill="none"/>
<circle cx="402.7" cy="443.8" r="2" stroke="#333333" stroke-width="1.03" fill="none"/>
<circle cx="402.7" cy="485.2" r="4" stroke="#333333" stroke-width="1.15" fill="none"/>
<circle cx="402.7" cy="485.2" r="2" stroke="#333333" stroke-width="1.03" fill="none"/>
<path d="M443.6 464.4 L433.3 482.24 L412.7 482.24 L402.4 464.4 L412.7 446.56 L433.3 446.56 Z" stroke="#333333" stroke-width="1.26" fill="none" stroke-linejoin="round" />
<circle cx="423.0" cy="464.4" r="17" stroke="#333333" stroke-width="1.15" fill="none"/>
<circle cx="423.0" cy="464.4" r="6.4" stroke="#333333" stroke-width="1.26" fill="none"/>
<circle cx="423.0" cy="464.4" r="4" stroke="#333333" stroke-width="1.03" fill="none"/>
<line x1="423.0" y1="434" x2="423.0" y2="494" stroke="#cfcfcf" stroke-width="0.6" stroke-dasharray="7 1.5 1.5 1.5"/>
<path d="M411.4 438 L411.4 433.5 L410.0 432 L399.0 432" stroke="#333333" stroke-width="1.03" fill="none" stroke-linejoin="round" />
<rect x="402.4" y="433" width="3.6" height="5" rx="0" stroke="#333333" stroke-width="0.8" fill="none"/>
<path d="M411.4 490.6 L411.4 495.7 L410.0 497.2 L399.0 497.2" stroke="#333333" stroke-width="1.03" fill="none" stroke-linejoin="round" />
<rect x="402.4" y="490.6" width="3.6" height="5.6" rx="0" stroke="#333333" stroke-width="0.8" fill="none"/>
<line x1="399.0" y1="430" x2="363.0" y2="430" stroke="#333333" stroke-width="1.15" />
<line x1="363.0" y1="430" x2="359.4" y2="436.5" stroke="#333333" stroke-width="1.15" />
<line x1="399.0" y1="498.8" x2="363.0" y2="498.8" stroke="#333333" stroke-width="1.15" />
<line x1="363.0" y1="498.8" x2="359.4" y2="492.3" stroke="#333333" stroke-width="1.15" />
<line x1="399.0" y1="430" x2="399.0" y2="438" stroke="#333333" stroke-width="1.03" />
<line x1="399.0" y1="490.6" x2="399.0" y2="498.8" stroke="#333333" stroke-width="1.03" />
<line x1="397.4" y1="438" x2="359.4" y2="438" stroke="#333333" stroke-width="1.49" />
<line x1="397.4" y1="490.8" x2="359.4" y2="490.8" stroke="#333333" stroke-width="1.49" />
<line x1="396.0" y1="438" x2="396.0" y2="490.6" stroke="#333333" stroke-width="1.03" />
<line x1="385.6" y1="438" x2="385.6" y2="490.6" stroke="#333333" stroke-width="1.03" />
<line x1="379.6" y1="430" x2="379.6" y2="438" stroke="#333333" stroke-width="1.03" />
<line x1="379.6" y1="490.6" x2="379.6" y2="498.8" stroke="#333333" stroke-width="1.03" />
<rect x="362.4" y="443.6" width="22.0" height="42.0" rx="2.5" stroke="#333333" stroke-width="1.15" fill="none"/>
<path d="M380.4 452 L369.6 452 L367.4 459 L367.4 470 L369.6 477 L380.4 477 L382.4 470 L382.4 459 Z" stroke="#333333" stroke-width="1.38" fill="none" stroke-linejoin="round" />
<rect x="363.2" y="456" width="3.4" height="17" rx="0" stroke="#333333" stroke-width="0.8" fill="none"/>
<circle cx="373.4" cy="447.6" r="0.8" stroke="#333333" stroke-width="0.57" fill="#333333"/>
<circle cx="373.4" cy="481.6" r="0.8" stroke="#333333" stroke-width="0.57" fill="#333333"/>
<circle cx="390.5" cy="477.8" r="3.9" stroke="#333333" stroke-width="1.26" fill="none"/>
<line x1="386.6" y1="477.8" x2="394.4" y2="477.8" stroke="#333333" stroke-width="0.92" />
<line x1="390.5" y1="473.90000000000003" x2="390.5" y2="481.7" stroke="#333333" stroke-width="0.92" />
<circle cx="390.5" cy="469.4" r="3.9" stroke="#333333" stroke-width="1.26" fill="none"/>
<line x1="386.6" y1="469.4" x2="394.4" y2="469.4" stroke="#333333" stroke-width="0.92" />
<line x1="390.5" y1="465.5" x2="390.5" y2="473.29999999999995" stroke="#333333" stroke-width="0.92" />
<circle cx="404.4" cy="490.8" r="0.8" stroke="#333333" stroke-width="0.57" fill="#333333"/>
<path d="M259.4 438 L259.4 423.8 L379.6 423.8 L379.6 438" stroke="#333333" stroke-width="1.26" fill="none" stroke-linejoin="round" />
<path d="M259.4 490.6 L259.4 505.4 L379.6 505.4 L379.6 490.6" stroke="#333333" stroke-width="1.26" fill="none" stroke-linejoin="round" />
<line x1="259.4" y1="424.4" x2="379.6" y2="424.4" stroke="#333333" stroke-width="0.69" />
<path d="M291.1 423.8 L292.1 420.8 L297.1 420.8 L298.1 423.8" stroke="#333333" stroke-width="0.8" fill="none"/>
<path d="M336.1 423.8 L337.1 420.8 L342.1 420.8 L343.1 423.8" stroke="#333333" stroke-width="0.8" fill="none"/>
<line x1="301.2" y1="424.4" x2="296.2" y2="437" stroke="#333333" stroke-width="1.03" />
<line x1="301.2" y1="505" x2="296.2" y2="491.6" stroke="#333333" stroke-width="1.03" />
<line x1="337.6" y1="424.4" x2="342.6" y2="437" stroke="#333333" stroke-width="1.03" />
<line x1="337.6" y1="505" x2="342.6" y2="491.6" stroke="#333333" stroke-width="1.03" />
<path d="M282.0 437.6 A5.6 5.6 0 0 1 293.20000000000005 437.6" stroke="#333333" stroke-width="0.8" fill="none"/>
<path d="M282.0 491.2 A5.6 5.6 0 0 0 293.20000000000005 491.2" stroke="#333333" stroke-width="0.8" fill="none"/>
<path d="M284.0 437.6 A3.6 3.6 0 0 1 291.20000000000005 437.6" stroke="#333333" stroke-width="0.8" fill="none"/>
<path d="M284.0 491.2 A3.6 3.6 0 0 0 291.20000000000005 491.2" stroke="#333333" stroke-width="0.8" fill="none"/>
<path d="M345.2 437.6 A5.6 5.6 0 0 1 356.40000000000003 437.6" stroke="#333333" stroke-width="0.8" fill="none"/>
<path d="M345.2 491.2 A5.6 5.6 0 0 0 356.40000000000003 491.2" stroke="#333333" stroke-width="0.8" fill="none"/>
<path d="M347.2 437.6 A3.6 3.6 0 0 1 354.40000000000003 437.6" stroke="#333333" stroke-width="0.8" fill="none"/>
<path d="M347.2 491.2 A3.6 3.6 0 0 0 354.40000000000003 491.2" stroke="#333333" stroke-width="0.8" fill="none"/>
<rect x="279.8" y="437.6" width="79.6" height="53.6" rx="0" stroke="#333333" stroke-width="1.49" fill="none"/>
<circle cx="297" cy="445.8" r="5.2" stroke="#333333" stroke-width="1.72" fill="none"/>
<circle cx="297" cy="445.8" r="2.7" stroke="#333333" stroke-width="1.26" fill="none"/>
<circle cx="297" cy="483.6" r="5.2" stroke="#333333" stroke-width="1.72" fill="none"/>
<circle cx="297" cy="483.6" r="2.7" stroke="#333333" stroke-width="1.26" fill="none"/>
<circle cx="344.4" cy="445.8" r="5.2" stroke="#333333" stroke-width="1.72" fill="none"/>
<circle cx="344.4" cy="445.8" r="2.7" stroke="#333333" stroke-width="1.26" fill="none"/>
<circle cx="344.4" cy="483.6" r="5.2" stroke="#333333" stroke-width="1.72" fill="none"/>
<circle cx="344.4" cy="483.6" r="2.7" stroke="#333333" stroke-width="1.26" fill="none"/>
<circle cx="286.6" cy="464.7" r="3.2" stroke="#333333" stroke-width="1.03" fill="none"/>
<circle cx="286.6" cy="464.7" r="1.4" stroke="#333333" stroke-width="0.69" fill="#333333"/>
<circle cx="352" cy="464.7" r="3.2" stroke="#333333" stroke-width="1.03" fill="none"/>
<circle cx="352" cy="464.7" r="1.4" stroke="#333333" stroke-width="0.69" fill="#333333"/>
<circle cx="319" cy="452.4" r="7" stroke="#333333" stroke-width="1.15" fill="none"/>
<circle cx="319" cy="452.4" r="5" stroke="#333333" stroke-width="1.03" fill="none"/>
<line x1="319" y1="444.4" x2="319" y2="460.4" stroke="#8a8a8a" stroke-width="0.5" />
<line x1="311" y1="452.4" x2="327" y2="452.4" stroke="#8a8a8a" stroke-width="0.5" />
<circle cx="309" cy="464.2" r="7" stroke="#333333" stroke-width="1.15" fill="none"/>
<circle cx="309" cy="464.2" r="5" stroke="#333333" stroke-width="1.03" fill="none"/>
<line x1="309" y1="456.2" x2="309" y2="472.2" stroke="#8a8a8a" stroke-width="0.5" />
<line x1="301" y1="464.2" x2="317" y2="464.2" stroke="#8a8a8a" stroke-width="0.5" />
<circle cx="329.4" cy="464.2" r="7" stroke="#333333" stroke-width="1.15" fill="none"/>
<circle cx="329.4" cy="464.2" r="5" stroke="#333333" stroke-width="1.03" fill="none"/>
<line x1="329.4" y1="456.2" x2="329.4" y2="472.2" stroke="#8a8a8a" stroke-width="0.5" />
<line x1="321.4" y1="464.2" x2="337.4" y2="464.2" stroke="#8a8a8a" stroke-width="0.5" />
<circle cx="319" cy="476.2" r="7" stroke="#333333" stroke-width="1.15" fill="none"/>
<circle cx="319" cy="476.2" r="5" stroke="#333333" stroke-width="1.03" fill="none"/>
<line x1="319" y1="468.2" x2="319" y2="484.2" stroke="#8a8a8a" stroke-width="0.5" />
<line x1="311" y1="476.2" x2="327" y2="476.2" stroke="#8a8a8a" stroke-width="0.5" />
<text transform="translate(311.2 449.2) scale(1 1)" font-size="11" fill="#555" text-anchor="middle" font-weight="normal" >P</text>
<text transform="translate(298 464.8) scale(1 1)" font-size="11" fill="#555" text-anchor="middle" font-weight="normal" >B</text>
<text transform="translate(307.2 483.8) scale(1 1)" font-size="11" fill="#555" text-anchor="middle" font-weight="normal" >T</text>
<text transform="translate(336 457.4) rotate(12) scale(1 1)" font-size="11" fill="#555" text-anchor="middle" font-weight="normal" >A</text>
<line x1="156" y1="464.4" x2="482" y2="464.4" stroke="#a8a8a8" stroke-width="0.6" stroke-dasharray="7 1.5 1.5 1.5"/>
<line x1="258.8" y1="505" x2="258.8" y2="522" stroke="#d0d0d0" stroke-width="0.6" />
<line x1="287.6" y1="491" x2="287.6" y2="522" stroke="#999" stroke-width="0.6" />
<line x1="350.4" y1="491" x2="350.4" y2="522" stroke="#c8c8c8" stroke-width="0.6" />
<line x1="258.8" y1="520" x2="287.6" y2="520" stroke="#999" stroke-width="0.7" />
<path d="M258.8 520 L261.4 519.45 L261.4 520.55 Z" fill="#666" stroke="#666" stroke-width="0.3"/>
<path d="M287.6 520 L285.0 520.55 L285.0 519.45 Z" fill="#666" stroke="#666" stroke-width="0.3"/>
<line x1="287.6" y1="520" x2="350.4" y2="520" stroke="#999" stroke-width="0.7" />
<path d="M287.6 520 L290.2 519.45 L290.2 520.55 Z" fill="#666" stroke="#666" stroke-width="0.3"/>
<path d="M350.4 520 L347.8 520.55 L347.8 519.45 Z" fill="#666" stroke="#666" stroke-width="0.3"/>
<text transform="translate(273 517.2) scale(1 1)" font-size="9.4" fill="#5a5a5a" text-anchor="middle" font-weight="normal" >25.5</text>
<text transform="translate(322 517.8) scale(1 1)" font-size="9.4" fill="#5a5a5a" text-anchor="middle" font-weight="normal" >54</text>
<line x1="380" y1="420" x2="521.8" y2="420" stroke="#b4b4b4" stroke-width="0.7" />
<line x1="380" y1="505.6" x2="521.8" y2="505.6" stroke="#b4b4b4" stroke-width="0.7" />
<line x1="521.4" y1="420" x2="521.4" y2="505.6" stroke="#c4c4c4" stroke-width="0.7" />
<path d="M521.4 420 L521.95 422.6 L520.85 422.6 Z" fill="#888" stroke="#888" stroke-width="0.3"/>
<path d="M521.4 505.6 L520.85 503.0 L521.95 503.0 Z" fill="#888" stroke="#888" stroke-width="0.3"/>
<line x1="449" y1="438" x2="505.2" y2="438" stroke="#999" stroke-width="0.7" />
<line x1="449" y1="490.8" x2="505.2" y2="490.8" stroke="#999" stroke-width="0.7" />
<line x1="505" y1="438" x2="505" y2="490.8" stroke="#999" stroke-width="0.7" />
<path d="M505 438 L505.55 440.6 L504.45 440.6 Z" fill="#666" stroke="#666" stroke-width="0.3"/>
<path d="M505 490.8 L504.45 488.2 L505.55 488.2 Z" fill="#666" stroke="#666" stroke-width="0.3"/>
<line x1="476" y1="464.79999999999995" x2="490.6" y2="464.79999999999995" stroke="#999" stroke-width="0.7" />
<line x1="490.4" y1="464.79999999999995" x2="490.4" y2="490.8" stroke="#999" stroke-width="0.7" />
<path d="M490.4 464.79999999999995 L490.95 467.4 L489.85 467.4 Z" fill="#666" stroke="#666" stroke-width="0.3"/>
<path d="M490.4 490.8 L489.85 488.2 L490.95 488.2 Z" fill="#666" stroke="#666" stroke-width="0.3"/>
<text transform="translate(489.4 478) rotate(-90) scale(0.81 1)" font-size="10.5" fill="#606060" text-anchor="middle" font-weight="normal" >23</text>
<text transform="translate(503.8 464.3) rotate(-90) scale(0.81 1)" font-size="10.5" fill="#606060" text-anchor="middle" font-weight="normal" >46</text>
<text transform="translate(519.8 461) rotate(-90) scale(0.81 1)" font-size="10.5" fill="#606060" text-anchor="middle" font-weight="normal" >73.4</text>
</svg>
<div class="cap"><i>①②</i><span>两位隔爆电磁换向阀</span></div>
</body>
</html>
